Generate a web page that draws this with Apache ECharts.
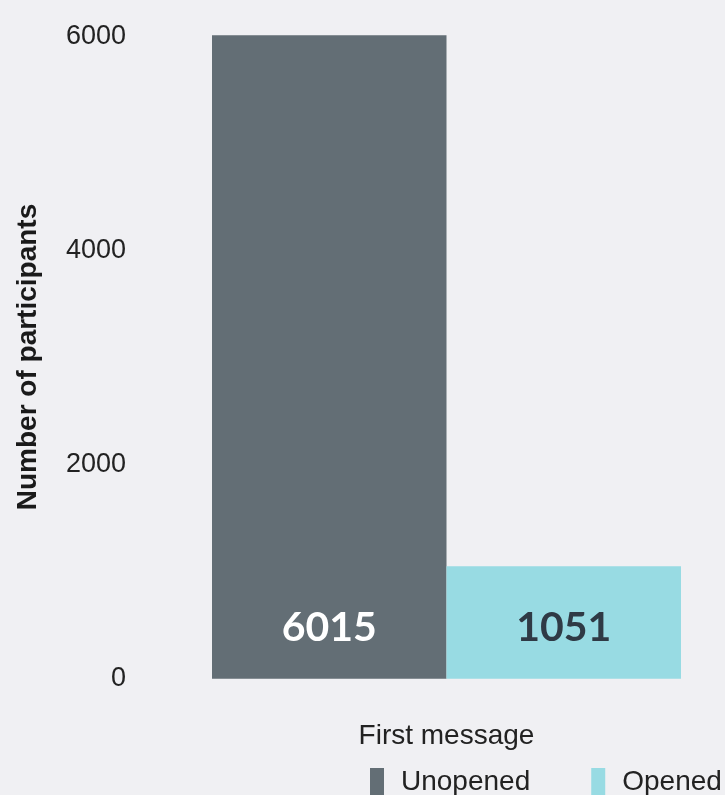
<!DOCTYPE html>
<html>
<head>
<meta charset="utf-8">
<title>First message</title>
<script src="https://cdn.jsdelivr.net/npm/echarts@6/dist/echarts.min.js"></script>
<style>
  html, body { margin: 0; padding: 0; background: #f0f0f3; }
  #chart { width: 725px; height: 795px; }
</style>
</head>
<body>
<div id="chart"></div>
<script>
// Participants by status of their first message
const categories = ['First message'];
const seriesNames = ['Unopened', 'Opened'];
const unopenedValues = [6015];
const openedValues = [1051];
const yTicks = [0, 2000, 4000, 6000];
const labelAnchor = 500; // value height where the count labels sit

const barColors = ['#636e75', '#98dbe3'];
const labelColors = ['#ffffff', '#2f3a45'];

// y range padded by 5% on both ends of the data span
const dataMax = Math.max(...unopenedValues, ...openedValues);
const pad = dataMax * 0.05;

const chart = echarts.init(document.getElementById('chart'));

function barSeries(name, values, idx) {
  return {
    name: name,
    type: 'bar',
    data: values,
    barGap: '0%',
    barCategoryGap: '15.8%',
    itemStyle: { color: barColors[idx] },
    label: {
      show: true,
      position: 'insideBottom',
      distance: 0,
      formatter: p => String(p.value),
      color: labelColors[idx],
      fontFamily: 'Lato',
      fontWeight: 700,
      fontSize: 41,
      lineHeight: 40
    }
  };
}

const series = [
  barSeries(seriesNames[0], unopenedValues, 0),
  barSeries(seriesNames[1], openedValues, 1)
];

chart.setOption({
  backgroundColor: '#f0f0f3',
  animation: false,
  grid: { left: 168, top: 3, right: 0, height: 708 },
  legend: {
    data: seriesNames,
    left: 370,
    top: 768,
    padding: 0,
    itemWidth: 14,
    itemHeight: 28,
    itemGap: 61,
    icon: 'rect',
    textStyle: {
      fontFamily: 'Liberation Sans',
      fontSize: 28,
      color: '#222222',
      padding: [0, 0, 0, 12]
    }
  },
  xAxis: {
    type: 'category',
    data: categories,
    name: 'First message',
    nameLocation: 'middle',
    nameGap: 11,
    nameTextStyle: {
      fontFamily: 'Liberation Sans',
      fontSize: 28,
      color: '#222222',
      verticalAlign: 'top'
    },
    axisLine: { show: false, onZero: false },
    axisTick: { show: false },
    axisLabel: { show: false }
  },
  yAxis: {
    type: 'value',
    min: -pad,
    max: dataMax + pad,
    name: 'Number of participants',
    nameLocation: 'middle',
    nameGap: 126,
    nameTextStyle: {
      fontFamily: 'Liberation Sans',
      fontWeight: 'bold',
      fontSize: 28,
      color: '#1a1a1a'
    },
    splitLine: { show: false },
    axisLine: { show: false },
    axisTick: { show: false },
    axisLabel: {
      customValues: yTicks,
      margin: 42,
      padding: [4, 0, 0, 0],
      formatter: v => String(v),
      fontFamily: 'Liberation Sans',
      fontSize: 27,
      color: '#222222'
    }
  },
  series: series
});

// lift the count labels so their centre sits at the anchor value
const base = chart.convertToPixel({ yAxisIndex: 0 }, 0);
const anchor = chart.convertToPixel({ yAxisIndex: 0 }, labelAnchor);
const lift = base - anchor - 22;
chart.setOption({
  series: series.map(() => ({ label: { distance: lift } }))
});
</script>
</body>
</html>
